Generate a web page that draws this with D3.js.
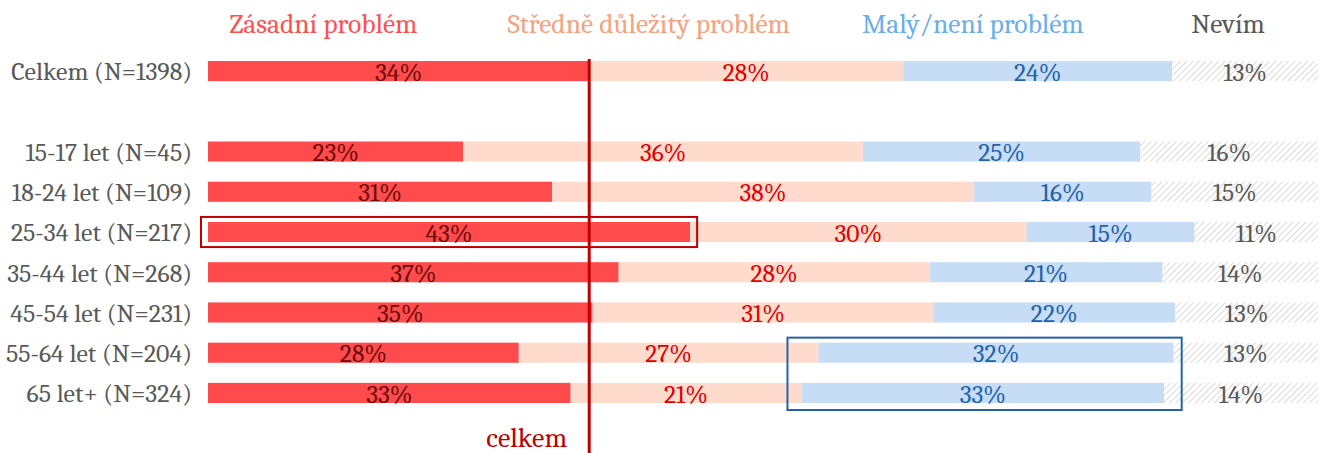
<!DOCTYPE html>
<html>
<head>
<meta charset="utf-8">
<script src="https://cdn.jsdelivr.net/npm/d3@7"></script>
<style>
  body { margin: 0; background: #fff; }
  svg text { font-family: Cambria, Caladea, "Liberation Serif", serif; }
</style>
</head>
<body>
<div id="chart"></div>
<script>
// data
var categories = ["Celkem (N=1398)", " ", "15-17 let (N=45)", "18-24 let (N=109)", "25-34 let (N=217)",
                  "35-44 let (N=268)", "45-54 let (N=231)", "55-64 let (N=204)", "65 let+ (N=324)"];
var series = ["Zásadní problém", "Středně důležitý problém", "Malý/není problém", "Nevím"];
var zasadni = [34, null, 23, 31, 43, 37, 35, 28, 33];
var stredne = [28, null, 36, 38, 30, 28, 31, 27, 21];
var maly    = [24, null, 25, 16, 15, 21, 22, 32, 33];
var nevim   = [13, null, 16, 15, 11, 14, 13, 13, 14];

var width = 1326, height = 453;
var margin = {left: 208, right: 8};

var rows = categories.map(function(c, i) {
    return {cat: c, z: zasadni[i], s: stredne[i], m: maly[i], n: nevim[i]};
}).filter(function(d) { return d.z != null; });

var keys = ["z", "s", "m", "n"];
var stacked = d3.stack().keys(keys).offset(d3.stackOffsetExpand)(rows);

var x = d3.scaleLinear().domain([0, 1]).range([margin.left, width - margin.right]);
var y = d3.scaleBand().domain(categories).range([61, 403]).paddingInner(0.5).paddingOuter(0);

var fills = ["#ff4b4b", "#fedbcd", "#c6ddf5", "url(#hatch)"];
var labelColors = ["#6b0b0b", "#e00000", "#1f62ad", "#595959"];
var legendColors = ["#ff5050", "#f6a27c", "#6aaeea", "#595959"];
var legendPos = [0.104, 0.397, 0.689, 0.919];

var svg = d3.select("#chart").append("svg")
    .attr("width", width)
    .attr("height", height);

// hatch pattern for "Nevím"
var pat = svg.append("defs").append("pattern")
    .attr("id", "hatch")
    .attr("patternUnits", "userSpaceOnUse")
    .attr("width", 4.5)
    .attr("height", 4.5)
    .attr("patternTransform", "rotate(45)");
pat.append("rect").attr("width", 4.5).attr("height", 4.5).attr("fill", "#fff");
pat.append("line")
    .attr("x1", 0).attr("y1", 0).attr("x2", 0).attr("y2", 4.5)
    .attr("stroke", "#cfcfcf").attr("stroke-width", 1.5);

// legend
svg.append("g").selectAll("text")
    .data(series)
    .enter().append("text")
    .attr("x", function(d, i) { return x(legendPos[i]); })
    .attr("y", 33)
    .attr("text-anchor", "middle")
    .style("font-size", "27.5px")
    .style("fill", function(d, i) { return legendColors[i]; })
    .text(function(d) { return d; });

// category labels
svg.append("g").selectAll("text")
    .data(categories)
    .enter().append("text")
    .attr("x", 192)
    .attr("y", function(d) { return y(d) + y.bandwidth() / 2; })
    .attr("dy", "0.36em")
    .attr("text-anchor", "end")
    .style("font-size", "25.8px")
    .style("fill", "#595959")
    .text(function(d) { return d; });

// bars
var layer = svg.append("g").selectAll("g")
    .data(stacked)
    .enter().append("g")
    .attr("fill", function(d, i) { return fills[i]; });

layer.selectAll("rect")
    .data(function(d) { return d; })
    .enter().append("rect")
    .attr("x", function(d) { return x(d[0]); })
    .attr("y", function(d) { return y(d.data.cat); })
    .attr("width", function(d) { return x(d[1]) - x(d[0]); })
    .attr("height", y.bandwidth());

// value labels
stacked.forEach(function(s, i) {
    svg.append("g").selectAll("text")
        .data(s)
        .enter().append("text")
        .attr("x", function(d) { return (x(d[0]) + x(d[1])) / 2; })
        .attr("y", function(d) { return y(d.data.cat) + y.bandwidth() / 2; })
        .attr("dy", "0.38em")
        .attr("text-anchor", "middle")
        .style("font-size", "25.5px")
        .style("fill", labelColors[i])
        .text(function(d) { return d.data[s.key] + "%"; });
});

// highlight boxes
var hl = stacked[0][rows.findIndex(function(d) { return d.cat === "25-34 let (N=217)"; })];
svg.append("rect")
    .attr("x", x(hl[0]) - 7)
    .attr("y", y(hl.data.cat) - 5)
    .attr("width", x(hl[1]) - x(hl[0]) + 14)
    .attr("height", y.bandwidth() + 10)
    .attr("fill", "none")
    .attr("stroke", "#c00000")
    .attr("stroke-width", 2);

var blueRows = stacked[2].filter(function(d) { return d.data.cat === "55-64 let (N=204)" || d.data.cat === "65 let+ (N=324)"; });
var bx0 = d3.min(blueRows, function(d) { return x(d[0]); }) - 14;
var bx1 = d3.max(blueRows, function(d) { return x(d[1]); }) + 8;
svg.append("rect")
    .attr("x", bx0)
    .attr("y", y(blueRows[0].data.cat) - 5)
    .attr("width", bx1 - bx0)
    .attr("height", y(blueRows[1].data.cat) - y(blueRows[0].data.cat) + y.bandwidth() + 12)
    .attr("fill", "none")
    .attr("stroke", "#2563a8")
    .attr("stroke-width", 2);

// "celkem" reference line
var cx = x(stacked[0][0][1]);
svg.append("line")
    .attr("x1", cx).attr("x2", cx)
    .attr("y1", y(categories[0]) - 2).attr("y2", height)
    .attr("stroke", "#c00000")
    .attr("stroke-width", 3);

svg.append("text")
    .attr("x", cx - 22)
    .attr("y", 447)
    .attr("text-anchor", "end")
    .style("font-size", "28px")
    .style("fill", "#c00000")
    .text("celkem");
</script>
</body>
</html>
